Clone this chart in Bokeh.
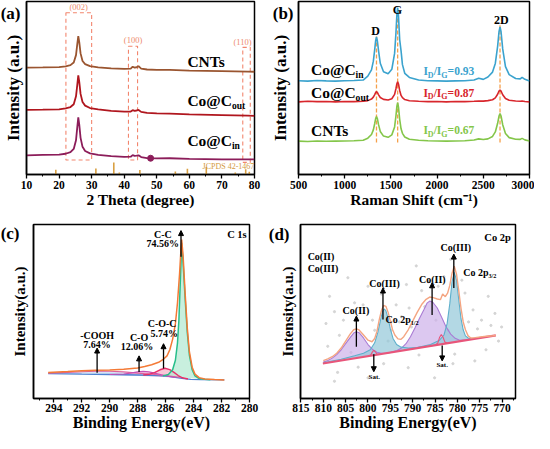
from bokeh.plotting import figure
from bokeh.models import Range1d, Label, Arrow, NormalHead, SingleIntervalTicker, FixedTicker
from bokeh.layouts import column, row
from bokeh.embed import file_html
from bokeh.resources import INLINE

FONT = "Liberation Serif"

# ---------------- (a) XRD data ----------------
xrd_2theta = [10, 15, 20, 22, 23.5, 24.5, 25.2, 25.6, 25.9, 26.2, 26.6, 27.2, 28, 29.5, 32,
              36, 40, 42, 42.6, 43.2, 43.8, 44.4, 45.2, 47, 50, 54, 60, 70, 78, 80]
xrd_cnts = [61.8, 61.9, 62.1, 62.5, 63.2, 64.7, 69.0, 75.5, 80.0, 76.5, 70.0, 65.6, 63.8, 62.6, 61.9,
            61.3, 61.0, 61.2, 62.3, 61.8, 62.0, 62.6, 61.2, 60.7, 60.5, 60.5, 60.1, 59.8, 59.5, 59.4]
xrd_co_out = [37.4, 37.5, 37.7, 38.2, 39.0, 40.6, 45.2, 52.0, 57.3, 53.5, 46.6, 41.9, 39.8, 38.4, 37.6,
              36.8, 36.3, 36.4, 37.2, 36.8, 37.0, 37.3, 36.2, 35.6, 35.3, 35.2, 34.7, 34.3, 34.0, 33.9]
xrd_co_in = [11.1, 11.3, 11.5, 12.0, 12.9, 14.8, 19.8, 27.5, 33.0, 28.8, 21.2, 16.0, 13.6, 12.2, 11.4,
             10.6, 10.2, 10.3, 11.2, 10.8, 10.9, 11.1, 10.1, 9.5, 9.3, 9.4, 9.0, 8.8, 8.7, 8.7]
co_dot_x = [48.1]
co_dot_y = [9.4]
jcpds_pos = [19.0, 31.3, 36.8, 38.5, 44.8, 55.7, 59.4, 65.2, 74.1, 77.3, 78.4]
jcpds_h = [2.8, 3.5, 7.0, 1.2, 2.6, 1.8, 3.3, 4.4, 1.2, 3.0, 1.6]
box_left = [22.1, 41.3, 76.4]
box_right = [30.0, 44.1, 78.7]
box_top = [93.5, 74.1, 73.5]
box_bottom = [8.4, 8.4, 7.0]
box_labels = ["(002)", "(100)", "(110)"]
box_label_x = [26.0, 42.7, 76.3]
box_label_y = [96.6, 77.6, 76.8]

# ---------------- (b) Raman data ----------------
raman_x = [500, 600, 700, 800, 900, 1000, 1100, 1200, 1250, 1290, 1310, 1325, 1335, 1344, 1353,
           1365, 1385, 1420, 1470, 1510, 1540, 1555, 1565, 1573, 1582, 1595, 1610, 1625, 1650,
           1700, 1800, 1900, 2000, 2100, 2200, 2300, 2400, 2450, 2500, 2550, 2600, 2630, 2655,
           2670, 2681, 2692, 2710, 2740, 2780, 2850, 2900, 2920, 2950, 3000]
raman_co_in = [54.2, 54.0, 54.3, 54.1, 54.0, 54.2, 54.3, 54.6, 56.9, 60.5, 65.5, 72.3, 77.4, 79.5, 77.4,
               72.1, 64.3, 59.4, 58.2, 60.8, 70.0, 82.2, 92.6, 96.5, 91.7, 78.0, 71.5, 63.5, 58.5,
               56.1, 54.6, 54.2, 54.1, 54.0, 54.1, 54.2, 54.6, 55.6, 55.0, 56.4, 59.2, 64.2, 74.1,
               82.5, 85.3, 82.5, 72.6, 62.4, 57.7, 55.5, 55.3, 56.2, 55.0, 54.0]
raman_co_out = [42.0, 42.3, 42.1, 42.2, 42.0, 42.2, 42.1, 42.3, 42.7, 43.6, 44.7, 46.2, 47.4, 47.9, 47.4,
                46.2, 44.5, 43.4, 43.1, 43.8, 46.3, 49.7, 52.5, 53.6, 52.3, 48.6, 45.7, 44.4, 43.3,
                42.6, 42.3, 42.1, 42.2, 42.0, 42.2, 42.1, 42.3, 42.5, 42.4, 42.7, 43.2, 44.3, 46.4,
                48.2, 48.8, 48.2, 46.1, 43.9, 42.9, 42.5, 42.3, 42.5, 42.2, 42.0]
raman_cnts = [19.3, 19.1, 19.4, 19.2, 19.3, 19.4, 19.5, 19.8, 21.0, 23.1, 25.8, 29.5, 32.3, 33.5, 32.4,
              29.1, 24.9, 22.2, 21.5, 22.9, 27.5, 34.1, 39.5, 41.5, 39.0, 31.9, 26.4, 23.8, 21.7,
              20.4, 19.8, 19.5, 19.4, 19.3, 19.4, 19.5, 19.9, 20.6, 20.2, 20.6, 22.0, 24.6, 29.6,
              33.8, 35.2, 33.8, 28.8, 23.7, 21.3, 20.4, 20.3, 20.9, 20.0, 19.4]
raman_peak_pos = [1344, 1573, 2681]
raman_peak_top = [80.2, 92.6, 86.3]
raman_peak_names = ["D", "G", "2D"]
raman_peak_label_x = [1334, 1571, 2696]
raman_peak_label_y = [82.7, 95.1, 89.3]
ratio_values = ["0.93", "0.87", "0.67"]

# ---------------- (c) C 1s data ----------------
c_bg_e = [294.4, 292, 290, 288, 286.5, 285.8, 285.2, 284.7, 284.2, 283.5, 281.8]
c_bg_y = [14.3, 14.0, 13.8, 13.5, 13.1, 12.7, 12.0, 11.4, 11.0, 10.8, 10.7]
c_cooh_e = [294.4, 293, 292, 291, 290.5, 290, 289, 288, 287, 286, 285]
c_cooh_y = [14.6, 15.0, 15.4, 15.7, 15.8, 15.7, 15.3, 14.6, 13.9, 13.2, 12.2]
c_co_e = [290, 289, 288.5, 288, 287.6, 287.2, 286.8, 286.3, 285.8, 285.3]
c_co_y = [13.8, 14.1, 14.6, 15.3, 15.6, 15.3, 14.6, 13.6, 12.8, 12.1]
c_coc_e = [287.6, 287.2, 286.8, 286.4, 286.05, 285.7, 285.4, 285.1, 284.8, 284.4]
c_coc_y = [13.5, 13.9, 14.9, 16.5, 17.4, 16.6, 15.0, 13.2, 11.9, 11.2]
c_cc_e = [286.2, 285.8, 285.5, 285.3, 285.15, 285.05, 284.95, 284.85, 284.75, 284.6, 284.45,
          284.3, 284.1, 283.9, 283.6, 283.2, 282.8]
c_cc_y = [13.0, 13.8, 16.5, 22.0, 32.0, 45.0, 67.0, 89.5, 78.0, 57.0, 38.0, 25.0, 16.5, 13.0,
          11.5, 11.0, 10.8]
c_env_e = [294.4, 293, 292, 291, 290, 289, 288, 287.5, 287, 286.5, 286.2, 285.9, 285.7, 285.5,
           285.3, 285.15, 285.0, 284.9, 284.85, 284.75, 284.6, 284.45, 284.3, 284.1, 283.9,
           283.6, 283.2, 282.5, 281.8]
c_env_y = [15.0, 15.5, 15.9, 16.2, 16.4, 16.8, 17.5, 18.4, 19.4, 20.8, 22.3, 24.5, 28.0, 34.0,
           43.0, 55.0, 72.0, 86.0, 91.3, 82.0, 60.0, 40.5, 27.0, 18.0, 14.0, 12.0, 11.2, 10.9, 10.7]

# ---------------- (d) Co 2p data ----------------
d_env_e = [810.0, 809.0, 808.0, 807.0, 806.0, 805.0, 804.0, 803.2, 802.6, 802.0, 801.0, 800.0,
           799.1, 798.5, 798.0, 797.5, 797.0, 796.5, 796.0, 795.5, 795.0, 794.5, 794.0, 793.3,
           792.6, 792.0, 791.0, 790.0, 789.0, 788.0, 787.0, 786.2, 785.4, 784.5, 783.8, 783.3,
           782.7, 782.2, 781.7, 781.2, 780.7, 780.2, 779.7, 779.2, 778.7, 778.2, 777.6, 777.0,
           776.0, 774.0, 772.0, 771.4]
d_env_y = [21.8, 22.8, 24.0, 26.0, 29.0, 33.0, 37.0, 39.5, 40.0, 39.4, 36.5, 33.5,
           32.6, 34.5, 38.5, 45.0, 50.5, 53.5, 53.0, 49.5, 44.5, 39.5, 36.5, 34.3,
           34.0, 35.5, 39.5, 44.5, 49.5, 54.0, 57.0, 58.3, 58.0, 57.2, 56.8, 60.0,
           58.5, 60.5, 65.0, 72.0, 76.0, 71.5, 62.0, 52.0, 44.0, 39.5, 36.0, 34.8,
           35.0, 35.6, 36.1, 36.3]
d_bg_e = [810.1, 771.4]
d_bg_y = [20.1, 36.3]
d_co2sat_e = [810, 809, 808, 807, 806, 805, 804, 803.2, 802.6, 802, 801, 800, 799, 798, 797, 796, 794.5]
d_co2sat_y = [20.9, 21.9, 23.2, 25.2, 28.0, 31.5, 35.0, 37.6, 38.4, 37.8, 34.8, 31.0, 28.2, 26.6, 26.0, 26.1, 26.6]
d_co3a_e = [810, 806, 803, 801, 799.5, 798.5, 797.8, 797.2, 796.8, 796.4, 796.0, 795.5, 795.0,
            794.4, 793.6, 792.6, 791, 789, 787, 785]
d_co3a_y = [20.5, 22.6, 24.6, 26.0, 28.0, 32.0, 38.0, 45.0, 49.5, 51.5, 50.5, 46.0, 40.0,
            34.5, 31.0, 29.5, 29.0, 29.3, 29.9, 30.7]
d_co2b_e = [795, 793.5, 792.5, 791.5, 790.5, 789.5, 788.5, 787.5, 786.8, 786.2, 785.5, 784.5,
            783.5, 782.5, 781.5, 780.5, 779.5, 778, 776.5]
d_co2b_y = [26.6, 27.6, 29.0, 31.5, 35.5, 40.5, 46.0, 51.0, 54.8, 56.0, 55.3, 52.0,
            46.5, 41.0, 37.0, 34.6, 33.5, 33.7, 34.3]
d_co3b_e = [792, 789, 786, 784, 783, 782.3, 781.7, 781.2, 780.7, 780.2, 779.7, 779.2, 778.7,
            778.2, 777.5, 776.5, 775]
d_co3b_y = [27.9, 29.3, 31.0, 33.5, 36.5, 43.0, 54.5, 67.0, 72.5, 68.0, 57.0, 46.0, 39.5,
            36.0, 34.6, 34.5, 35.0]
d_sat1_e = [800, 799.4, 799.0, 798.7, 798.4, 798.0, 797.4]
d_sat1_y = [24.3, 25.0, 26.8, 27.6, 27.0, 25.6, 25.4]
d_sat2_e = [785, 784.4, 784.0, 783.6, 783.2, 782.8, 782.2]
d_sat2_y = [30.6, 31.8, 35.0, 36.8, 35.2, 32.4, 31.8]
d_raw_e = [809.4, 808.6, 807.5, 806.4, 804.5, 803.8, 801.1, 800.0, 798.5, 794.8, 793.7, 792.5,
           791.4, 790.3, 789.2, 787.3, 784.3, 782.1, 780.6, 778.3, 776.5, 774.6, 773.1, 771.6,
           770.1, 807.5, 800.0, 791.0, 785.1, 776.1, 805.5, 803.0, 799.0, 797.0, 795.5, 793.0,
           790.8, 788.0, 786.5, 784.8, 783.0, 781.5, 779.0, 777.5, 775.5, 772.5, 809.0, 806.8,
           802.2, 796.5, 788.6, 781.0, 773.6, 770.8]
d_raw_y = [43.1, 58.7, 49.9, 36.3, 69.4, 26.5, 53.8, 64.5, 39.2, 39.2, 53.8, 47.0,
           65.5, 41.1, 76.2, 52.8, 64.5, 39.2, 25.5, 60.6, 50.9, 45.0, 58.7, 48.9,
           41.1, 9.9, 11.9, 17.7, 11.9, 21.6, 45.0, 55.0, 45.0, 60.0, 33.0, 44.0,
           52.0, 62.0, 67.0, 45.0, 70.0, 80.0, 68.0, 44.0, 40.0, 42.0, 30.0, 15.0,
           18.0, 20.0, 25.0, 20.0, 28.0, 33.0]

# width table (Times/Liberation Serif Bold, per 1000 em)
W = {' ': 250, '(': 333, ')': 333, '-': 333, '.': 250, '/': 278, '%': 1000, '=': 570, '@': 930,
     'C': 722, 'D': 722, 'G': 778, 'I': 389, 'N': 722, 'T': 667, 'S': 556, 'H': 778, 'O': 778,
     'a': 500, 'i': 278, 'n': 556, 'o': 500, 'p': 556, 's': 389, 't': 333, 'u': 556, 'e': 444}


def tw(s, fs):
    return sum(W.get(ch, 500) for ch in s) * fs / 1000.0


def rich(p, x, y, segs, fs, color="black", align="left", sub_scale=0.62, bold=True):
    parts = []
    for t, sub in segs:
        f = fs * sub_scale if sub else fs
        parts.append((t, sub, f, tw(t, f)))
    total = sum(pp[3] for pp in parts)
    off = -total / 2 if align == "center" else 0.0
    for t, sub, f, wd in parts:
        p.add_layout(Label(x=x, y=y, x_offset=off, y_offset=(-fs * 0.32 if sub else 0), text=t,
                           text_font=FONT, text_font_size=f"{f:.1f}px",
                           text_font_style="bold" if bold else "normal", text_color=color,
                           text_align="left", text_baseline="middle"))
        off += wd


def txt(p, x, y, t, fs, color="black", align="center", bold=True):
    p.add_layout(Label(x=x, y=y, text=t, text_font=FONT,
                       text_font_size=f"{fs}px", text_font_style="bold" if bold else "normal",
                       text_color=color, text_align=align, text_baseline="middle"))


def arrow(p, x0, y0, x1, y1):
    p.add_layout(Arrow(end=NormalHead(size=5, fill_color="black", line_color="black"),
                       x_start=x0, y_start=y0, x_end=x1, y_end=y1,
                       line_color="black", line_width=1.3))


def make_fig(xr, h, bl, br, bt, bb, xlabel, ylabel, ticker, xl_size, yl_size, tick_size,
             panel_tag, tag_y, tag_standoff, yl_stand, tick_stand, xl_stand):
    p = figure(width=267, height=h, x_range=xr, y_range=Range1d(0, 100),
               output_backend="svg", toolbar_location=None, min_border_left=bl,
               min_border_right=br, min_border_top=bt, min_border_bottom=bb)
    p.grid.visible = False
    p.outline_line_color = "black"
    p.outline_line_width = 1.5
    p.outline_line_alpha = 1
    p.background_fill_color = "white"
    p.border_fill_color = "white"
    ax = p.xaxis[0]
    ax.ticker = ticker
    ax.axis_label = xlabel
    ax.axis_label_text_font = FONT
    ax.axis_label_text_font_style = "bold"
    ax.axis_label_text_font_size = xl_size
    ax.axis_label_text_color = "black"
    ax.axis_label_standoff = xl_stand
    ax.major_label_text_font = FONT
    ax.major_label_text_font_style = "bold"
    ax.major_label_text_font_size = tick_size
    ax.major_label_text_color = "black"
    ax.major_label_standoff = tick_stand
    ax.axis_line_width = 1.5
    ax.axis_line_color = "black"
    ax.major_tick_out = 4
    ax.major_tick_in = 0
    ax.minor_tick_out = 2
    ax.minor_tick_in = 0
    ax.major_tick_line_width = 1.3
    ax.minor_tick_line_width = 1
    ay = p.yaxis[0]
    # the panel tag "(a)" etc. is drawn as the single tick label of the left axis
    ay.ticker = FixedTicker(ticks=[tag_y])
    ay.major_label_overrides = {tag_y: panel_tag}
    ay.major_label_text_font = FONT
    ay.major_label_text_font_style = "bold"
    ay.major_label_text_font_size = "17px"
    ay.major_label_text_color = "black"
    ay.major_label_standoff = tag_standoff
    ay.axis_label = ylabel
    ay.axis_label_text_font = FONT
    ay.axis_label_text_font_style = "bold"
    ay.axis_label_text_font_size = yl_size
    ay.axis_label_text_color = "black"
    ay.axis_label_standoff = yl_stand
    ay.major_tick_out = 0
    ay.minor_tick_out = 0
    ay.major_tick_in = 0
    ay.minor_tick_in = 0
    ay.axis_line_width = 1.5
    ay.axis_line_color = "black"
    return p


# ================= (a) =================
pa = make_fig(Range1d(10, 80), 217, 21, 13, 1, 43, "2 Theta (degree)", "Intensity (a.u.)",
              SingleIntervalTicker(interval=10, num_minor_ticks=2), "15.5px", "17px", "11.5px",
              "(a)", 97, 6, -25, 2, -1)
pa.quad(left=box_left, right=box_right, top=box_top, bottom=box_bottom, fill_alpha=0,
        line_color="#F2866E", line_dash="4 3", line_width=1.1)
for bx, lab, ly in zip(box_label_x, box_labels, box_label_y):
    txt(pa, bx, ly, lab, 8.5, color="#EE8A6E", bold=False)
pa.segment(x0=jcpds_pos, y0=[0] * len(jcpds_pos), x1=jcpds_pos, y1=jcpds_h,
           line_color="#D9A042", line_width=1.6)
txt(pa, 72.0, 4.8, "JCPDS 42-1467", 8, color="#D49A3E", bold=False)
pa.line(xrd_2theta, xrd_cnts, line_color="#9A5530", line_width=1.8)
pa.line(xrd_2theta, xrd_co_out, line_color="#B0161E", line_width=1.8)
pa.line(xrd_2theta, xrd_co_in, line_color="#8C1D5A", line_width=1.8)
pa.scatter(co_dot_x, co_dot_y, size=6, color="#8C1D5A")
txt(pa, 59.4, 65.3, "CNTs", 15.5, align="left")
rich(pa, 59.4, 42.7, [("Co@C", False), ("out", True)], 15.5)
rich(pa, 59.4, 19.8, [("Co@C", False), ("in", True)], 15.5)

# ================= (b) =================
pb = make_fig(Range1d(500, 3000), 217, 29, 5, 1, 43, "Raman Shift (cm\u207b\u00b9)", "Intensity (a.u.)",
              SingleIntervalTicker(interval=500, num_minor_ticks=2), "15.5px", "17px", "11.5px",
              "(b)", 97, 5, -20, 2, -1)
pb.segment(x0=raman_peak_pos, y0=[18.5] * 3, x1=raman_peak_pos, y1=raman_peak_top,
           line_color="#F5A04A", line_dash="4 2", line_width=1.3)
pb.line(raman_x, raman_co_in, line_color="#3BA3CE", line_width=1.6)
pb.line(raman_x, raman_co_out, line_color="#D8262C", line_width=1.6)
pb.line(raman_x, raman_cnts, line_color="#84C64A", line_width=1.6)
for nm, lx, ly in zip(raman_peak_names, raman_peak_label_x, raman_peak_label_y):
    txt(pb, lx, ly, nm, 12)
rich(pb, 636, 60.7, [("Co@C", False), ("in", True)], 15.5)
rich(pb, 636, 47.4, [("Co@C", False), ("out", True)], 15.5)
txt(pb, 636, 25.5, "CNTs", 15.5, align="left")
for val, ly, col in zip(ratio_values, [59.6, 47.2, 25.5], ["#3BA3CE", "#D8262C", "#84C64A"]):
    rich(pb, 2127, ly, [("I", False), ("D", True), ("/I", False), ("G", True), ("=" + val, False)],
         11.5, color=col, align="center", sub_scale=0.7)

# ================= (c) =================
pc = make_fig(Range1d(295.45, 280), 216, 33, 18, 7, 34, "Binding Energy(eV)", "Intensity(a.u.)",
              SingleIntervalTicker(interval=2, num_minor_ticks=2), "16px", "15px", "11.5px",
              "(c)", 95, 14, -30, 1, -1)
pc.patch(c_cooh_e, c_cooh_y, fill_color="#B9D2F0", fill_alpha=0.6, line_alpha=0)
pc.patch(c_co_e, c_co_y, fill_color="#F2B6DA", fill_alpha=0.6, line_alpha=0)
pc.patch(c_coc_e, c_coc_y, fill_color="#F4A0BC", fill_alpha=0.6, line_alpha=0)
pc.patch(c_cc_e, c_cc_y, fill_color="#B6E9D3", fill_alpha=0.75, line_alpha=0)
pc.line(c_bg_e, c_bg_y, line_color="#4F82D2", line_width=1.3)
pc.line(c_cooh_e, c_cooh_y, line_color="#E0609A", line_width=1.1)
pc.line(c_co_e, c_co_y, line_color="#C84FB4", line_width=1.1)
pc.line(c_coc_e, c_coc_y, line_color="#E8306A", line_width=1.4)
pc.line(c_cc_e, c_cc_y, line_color="#27BE8A", line_width=1.5)
pc.line(c_env_e, c_env_y, line_color="#F47A36", line_width=1.5)
arrow(pc, 290.9, 14.8, 290.9, 29.0)
arrow(pc, 287.9, 15.2, 287.9, 24.5)
arrow(pc, 286.15, 17.3, 286.15, 31.5)
arrow(pc, 284.9, 81.5, 284.9, 96.5)
txt(pc, 290.9, 36.4, "-COOH", 10)
txt(pc, 290.9, 30.8, "7.64%", 10)
txt(pc, 287.9, 35.3, "C-O", 10)
txt(pc, 288.05, 30.0, "12.06%", 10)
txt(pc, 286.25, 42.9, "C-O-C", 10)
txt(pc, 286.1, 37.4, "5.74%", 10)
txt(pc, 286.2, 94.3, "C-C", 10)
txt(pc, 286.2, 89.1, "74.56%", 10)
txt(pc, 280.9, 94.3, "C 1s", 10.5)

# ================= (d) =================
pd_ = make_fig(Range1d(815.1, 767), 216, 33, 19, 7, 34, "Binding Energy(eV)", "Intensity(a.u.)",
               SingleIntervalTicker(interval=5, num_minor_ticks=2), "16px", "15px", "11.5px",
               "(d)", 94, 11, -30, 1, -1)
pd_.scatter(d_raw_e, d_raw_y, size=2.2, color="#D2D2D2", alpha=0.9)
pd_.patch(d_co2sat_e, d_co2sat_y, fill_color="#CDB0EA", fill_alpha=0.7, line_alpha=0)
pd_.patch(d_co2b_e, d_co2b_y, fill_color="#CDB0EA", fill_alpha=0.7, line_alpha=0)
pd_.patch(d_co3a_e, d_co3a_y, fill_color="#93C7D8", fill_alpha=0.7, line_alpha=0)
pd_.patch(d_co3b_e, d_co3b_y, fill_color="#93C7D8", fill_alpha=0.7, line_alpha=0)
pd_.line(d_co2sat_e, d_co2sat_y, line_color="#A97BD4", line_width=1.1)
pd_.line(d_co2b_e, d_co2b_y, line_color="#A97BD4", line_width=1.1)
pd_.line(d_co3a_e, d_co3a_y, line_color="#5EAFCB", line_width=1.1)
pd_.line(d_co3b_e, d_co3b_y, line_color="#5EAFCB", line_width=1.1)
pd_.line(d_sat1_e, d_sat1_y, line_color="#E8557A", line_width=1.1)
pd_.line(d_sat2_e, d_sat2_y, line_color="#E8557A", line_width=1.1)
pd_.line(d_bg_e, d_bg_y, line_color="#E8557A", line_width=2.2)
pd_.line(d_env_e, d_env_y, line_color="#F4A582", line_width=1.4)
arrow(pd_, 802.6, 29.8, 802.6, 47.4)
arrow(pd_, 796.65, 45.4, 796.65, 63.5)
arrow(pd_, 785.66, 48.0, 785.66, 66.5)
arrow(pd_, 780.8, 63.5, 780.8, 83.0)
arrow(pd_, 798.7, 25.5, 798.7, 15.4)
arrow(pd_, 783.4, 30.4, 783.4, 21.6)
txt(pd_, 813.5, 81.7, "Co(II)", 10, align="left")
txt(pd_, 813.5, 74.7, "Co(III)", 10, align="left")
txt(pd_, 802.7, 50.5, "Co(II)", 10)
txt(pd_, 796.3, 65.9, "Co(III)", 10)
txt(pd_, 785.6, 68.6, "Co(II)", 10)
txt(pd_, 780.35, 87.0, "Co(III)", 10)
rich(pd_, 796.1, 45.6, [("Co 2p", False), ("1/2", True)], 10)
rich(pd_, 778.7, 72.3, [("Co 2p", False), ("3/2", True)], 10)
txt(pd_, 771.0, 92.4, "Co 2p", 10.5)
txt(pd_, 798.6, 12.5, "Sat.", 7)
txt(pd_, 783.4, 19.0, "Sat.", 7)

layout = column(row(pa, pb), row(pc, pd_))
open("out.html", "w").write(file_html(layout, INLINE))
